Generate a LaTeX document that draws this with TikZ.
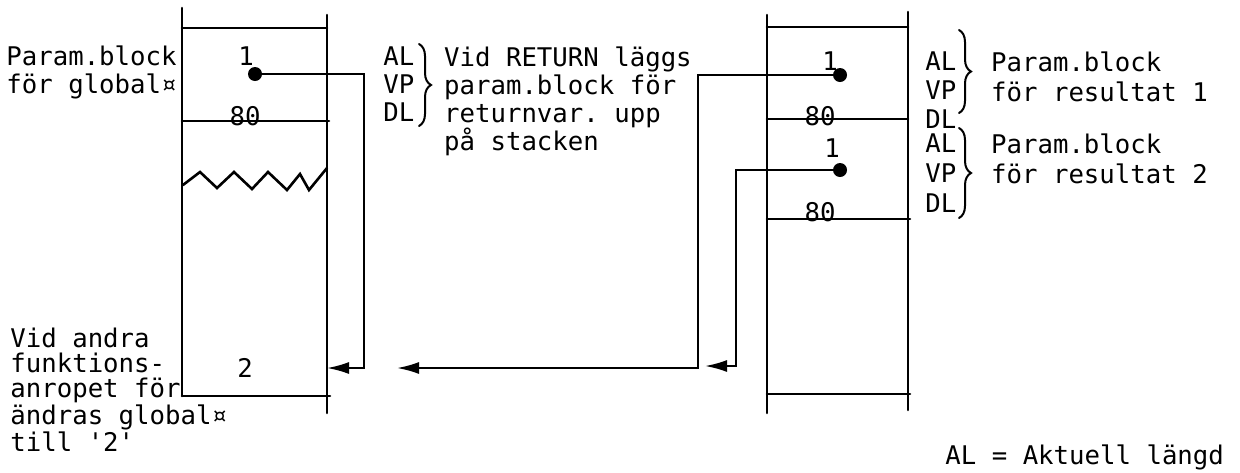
\documentclass[tikz,border=0pt]{standalone}
\usepackage{fontspec}
\setmonofont{DejaVu Sans Mono}
\usetikzlibrary{positioning,arrows.meta,decorations.pathreplacing}

\begin{document}
\begin{tikzpicture}[x=0.5pt, y=-0.5pt, line cap=round, >={Latex[length=11pt,width=6pt]},
  lbl/.style={inner sep=0pt, align=left, anchor=north west, font=\ttfamily\fontsize{12.85}{14}\selectfont},
  num/.style={inner sep=0pt, anchor=base, font=\ttfamily\fontsize{12.85}{14}\selectfont},
  wall/.style={line width=1.3pt},
  link/.style={line width=1pt},
  pdot/.style={circle, fill, inner sep=0pt, minimum size=7pt},
  brc/.style={decorate, decoration={brace, amplitude=6pt}, line width=1pt}]
\useasboundingbox (0,0) rectangle (1240,472);
% left stack (global)
\draw[wall] (182,8) -- (182,396);
\draw[wall] (327,15) -- (327,413);
\draw[wall] (182,28) -- (327,28);
\draw[wall] (182,121) -- (329,121);
\draw[wall] (182,396) -- (330,396);
\draw[wall] (183,185) -- (200,172) -- (217,188) -- (234,172) -- (252,189) -- (268,172)
  -- (287,190) -- (300,174) -- (309,190) -- (327,168);
\node[num] (alL) at (246,65) {1};
\node[pdot] (dotL) at (255,74) {};
\node[num] (dlL) at (245,125) {80};
\node[num] (newL) at (245,377) {2};
\node[lbl] (globL) at (6,45.5) {Param.block\\för global¤};
\node[lbl, font=\ttfamily\fontsize{12.85}{12.5}\selectfont] (note) at (10,327.5)
  {Vid andra\\funktions-\\anropet för\\ändras global¤\\till '2'};
% AL/VP/DL of the global block
\node[lbl] (regL) at (383,46) {AL\\VP\\DL};
\draw[brc] (419,44) -- (419,126);
\node[lbl, right=14.5pt of regL.north east, anchor=north west] (retL)
  {Vid RETURN läggs\\param.block för\\returnvar. upp\\på stacken};
% right stack (results)
\draw[wall] (767,15) -- (767,413);
\draw[wall] (908,12) -- (908,410);
\draw[wall] (767,27) -- (908,27);
\draw[wall] (767,119) -- (908,119);
\draw[wall] (767,219) -- (910,219);
\draw[wall] (767,394) -- (910,394);
\node[num] (alA) at (830,70) {1};
\node[pdot] (dotA) at (840,75) {};
\node[num] (dlA) at (820,125) {80};
\node[num] (alB) at (832,157) {1};
\node[pdot] (dotB) at (840,170) {};
\node[num] (dlB) at (820,221) {80};
\node[lbl, font=\ttfamily\fontsize{12.85}{14.5}\selectfont] (regA) at (925,51) {AL\\VP\\DL};
\node[lbl, font=\ttfamily\fontsize{12.85}{15}\selectfont] (regB) at (925,133.5) {AL\\VP\\DL};
\draw[brc] (959,30) -- (959,113);
\draw[brc] (959,128) -- (959,218);
\node[lbl, font=\ttfamily\fontsize{12.85}{15}\selectfont, right=17pt of regA.north east, anchor=north west] (resA)
  {Param.block\\för resultat 1};
\node[lbl, font=\ttfamily\fontsize{12.85}{15}\selectfont, right=17pt of regB.north east, anchor=north west] (resB)
  {Param.block\\för resultat 2};
\node[lbl, anchor=base west] (legend) at (945,464) {AL = Aktuell längd};
% pointers from VP back to the blocks
\coordinate (inL) at (327,368);
\coordinate (turnL) at (364,368);
\draw[link,->] (dotL.center) -| (turnL) -- (inL);
\coordinate (turnA) at (698,368);
\coordinate (tipA) at (397,368);
\draw[link,->] (dotA.center) -| (turnA) -- (tipA);
\coordinate (turnB) at (736,366);
\coordinate (tipB) at (705,366);
\draw[link,->] (dotB.center) -| (turnB) -- (tipB);
\end{tikzpicture}
\end{document}
